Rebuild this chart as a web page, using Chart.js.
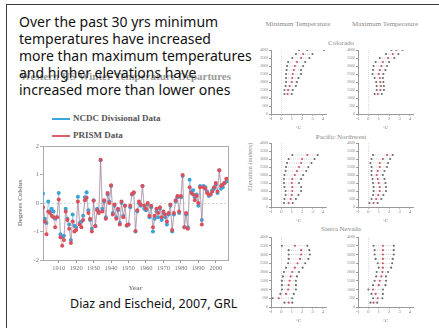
<!DOCTYPE html>
<html>
<head>
<meta charset="utf-8">
<script src="https://cdn.jsdelivr.net/npm/chart.js@4"></script>
<style>
  html, body { margin: 0; padding: 0; background: #fff; width: 439px; height: 328px; overflow: hidden; }
  .frame { position: absolute; left: 6px; top: 4px; width: 460px; height: 360px; border-left: 1.5px solid #3a3a3a; border-top: 1.5px solid #3a3a3a; }
  .abs { position: absolute; white-space: nowrap; }
  .ctr { transform: translate(-50%, -50%); }
  canvas { position: absolute; }
  .serif { font-family: 'Liberation Serif', 'DejaVu Serif', serif; }
  .slide { font-family: 'Comic Sans MS', 'Noto Sans', sans-serif; color: #111; }
</style>
</head>
<body>
<div class="frame"></div>

<div class="abs serif" style="left:20px; top:70px; font-size:11px; font-weight:bold; color:#9a9a9a;">Western US Winter Temperature Departures</div>
<div class="abs slide" style="left:19px; top:13px; font-size:14px; line-height:17px;">
  Over the past 30 yrs minimum<br>
  temperatures have increased<br>
  more than maximum temperatures<br>
  and higher elevations have<br>
  increased more than lower ones
</div>

<div class="abs" style="left:52px; top:118px; width:18px; height:2px; background:#3aa6dc;"></div>
<div class="abs serif" style="left:73px; top:113px; font-size:9px; font-weight:bold; color:#555;">NCDC Divisional Data</div>
<div class="abs" style="left:52px; top:135px; width:18px; height:2px; background:#de5f68;"></div>
<div class="abs serif" style="left:73px; top:130px; font-size:9px; font-weight:bold; color:#555;">PRISM Data</div>

<canvas id="main" width="226" height="152" style="left:8px; top:140px;"></canvas>

<div class="abs slide" style="left:70px; top:295px; font-size:12.5px;">Diaz and Eischeid, 2007, GRL</div>

<div class="abs serif ctr" style="left:298px; top:24px; font-size:7px; color:#888;">Minimum Temperature</div>
<div class="abs serif ctr" style="left:385px; top:24px; font-size:7px; color:#888;">Maximum Temperature</div>
<div class="abs serif ctr" style="left:341px; top:43px; font-size:7px; color:#888;">Colorado</div>
<div class="abs serif ctr" style="left:341px; top:137px; font-size:7px; color:#888;">Pacific Northwest</div>
<div class="abs serif ctr" style="left:341px; top:229px; font-size:7px; color:#888;">Sierra Nevada</div>
<div class="abs serif ctr" style="left:249px; top:167px; font-size:6.5px; color:#888; transform: translate(-50%, -50%) rotate(-90deg);">Elevation (meters)</div>

<canvas id="coMin" width="75" height="85" style="left:255px; top:46px;"></canvas>
<canvas id="coMax" width="75" height="85" style="left:342px; top:46px;"></canvas>
<canvas id="pnMin" width="75" height="85" style="left:255px; top:139px;"></canvas>
<canvas id="pnMax" width="75" height="85" style="left:342px; top:139px;"></canvas>
<canvas id="snMin" width="75" height="91" style="left:255px; top:233px;"></canvas>
<canvas id="snMax" width="75" height="91" style="left:342px; top:233px;"></canvas>

<script>
// Winter temperature departures (°C), 1901-2006
const firstYear = 1901;
const ncdc = [
  0.33, -0.55, -0.7, 0.05, -0.3, -0.2, -0.3, -0.55, -0.5, 0.35,
  -1.1, -1.2, -1.15, -0.2, -0.55, -0.75, -1.3, -0.4, -0.8, -0.85,
  0.22, -0.7, -0.65, -0.45, 0.2, 0.38, -0.25, -0.6, -0.9, 0.1,
  -0.8, -0.2, -0.3, 1.5, -0.2, 0.05, -0.5, 0.3, 0.05, 0.6,
  -0.35, -0.1, -0.5, -0.25, -0.7, 0.0, -0.45, -0.1, -0.8, -0.75,
  -0.15, 0.3, 0.35, -1.0, -0.3, 0.0, -0.1, 0.6, -0.2, -0.25,
  -0.05, -0.5, -0.15, -1.0, -0.55, -0.3, -0.5, -0.2, -0.6, -0.35,
  -0.5, -0.75, -0.4, -0.1, -1.0, -0.4, 0.05, 0.2, -0.35, 0.2,
  0.95, -0.85, -0.4, -0.85, 0.82, 0.4, 0.45, 0.2, 0.3, -0.1,
  0.6, -0.6, 0.6, 0.55, 0.4, 0.25, 0.3, 0.45, 0.5, 0.65,
  0.35, 1.15, 0.5, 0.55, 0.7, 0.75
];
const prism = [
  -0.15, -0.65, -1.1, -0.3, -0.35, -0.45, -0.5, -0.85, -0.5, 0.12,
  -1.2, -1.5, -1.3, -0.3, -0.6, -0.9, -1.4, -0.65, -1.0, -0.95,
  0.05, -0.75, -0.85, -0.6, 0.1, 0.18, -0.35, -0.55, -1.0, 0.08,
  -0.82, -0.25, -0.35, 1.52, -0.3, 0.1, -0.55, 0.35, 0.0, 0.62,
  -0.4, -0.05, -0.55, -0.2, -0.75, 0.05, -0.5, -0.1, -0.78, -0.75,
  -0.1, 0.32, 0.38, -0.98, -0.25, 0.05, -0.05, 0.6, -0.1, -0.2,
  0.0, -0.45, -0.1, -0.85, -0.45, -0.2, -0.35, -0.15, -0.5, -0.3,
  -0.4, -0.65, -0.35, -0.05, -0.95, -0.35, 0.1, 0.25, -0.3, 0.25,
  0.98, -0.85, -0.35, -0.9, 0.55, 0.35, 0.3, 0.1, 0.25, 0.0,
  0.55, -0.75, 0.55, 0.5, 0.35, 0.3, 0.3, 0.4, 0.55, 0.7,
  0.4, 1.15, 0.6, 0.65, 0.7, 0.85
];
const years = prism.map((_, i) => firstYear + i);
const decadeTicks = [1910, 1920, 1930, 1940, 1950, 1960, 1970, 1980, 1990, 2000];
const degreeTicks = [-2, -1, 0, 1, 2];

// Elevation profiles of warming (°C): low / central / high estimate per elevation band (m)
const coloradoElev = [4000, 3750, 3500, 3250, 3000, 2750, 2500, 2250, 2000, 1750, 1500, 1250];
const coMinLow  = [1.7, 1.4, 1.05, 0.65, 0.55, 0.5, 0.45, 0.45, 0.45, 0.4, 0.3, 0.3];
const coMinMid  = [2.5, 2.1, 1.9, 1.5, 1.3, 1.2, 1.1, 1.05, 1.0, 0.8, 0.65, 0.6];
const coMinHigh = [4.1, 3.0, 2.7, 2.3, 2.1, 1.9, 1.9, 1.65, 1.5, 1.4, 1.1, 1.0];
const coMaxLow  = [2.2, 1.7, 1.1, 0.7, 0.5, 0.45, 0.4, 0.6, 0.75, 0.8, 0.8, 0.6];
const coMaxMid  = [2.7, 2.35, 1.9, 1.4, 1.25, 1.1, 1.0, 1.1, 1.15, 1.2, 1.15, 0.9];
const coMaxHigh = [3.3, 2.9, 2.5, 2.0, 1.8, 1.65, 1.45, 1.4, 1.45, 1.5, 1.5, 1.3];

const pacificElev = [3250, 3000, 2750, 2500, 2250, 2000, 1750, 1500, 1250, 1000, 750, 500, 250];
const pnMinLow  = [1.05, 0.7, 0.55, 0.45, 0.4, 0.3, 0.25, 0.25, 0.3, 0.4, 0.4, 0.3, 0.25];
const pnMinMid  = [2.5, 2.0, 1.9, 1.7, 1.5, 1.3, 1.05, 1.0, 1.05, 1.05, 1.0, 0.9, 0.7];
const pnMinHigh = [3.5, 3.2, 2.9, 2.6, 2.4, 2.1, 1.9, 1.7, 1.9, 1.9, 1.65, 1.4, 1.1];
const pnMaxLow  = [0.45, 0.3, 0.2, 0.3, 0.3, 0.3, 0.4, 0.45, 0.5, 0.5, 0.45, 0.3, 0.1];
const pnMaxMid  = [1.8, 1.4, 1.1, 1.1, 0.9, 0.8, 0.9, 1.0, 1.1, 1.1, 0.95, 0.75, 0.5];
const pnMaxHigh = [2.35, 2.1, 1.9, 1.8, 1.55, 1.4, 1.55, 1.65, 1.7, 1.7, 1.45, 1.25, 0.9];

const sierraElev = [3500, 3250, 3000, 2750, 2500, 2250, 2000, 1750, 1500, 1250, 1000, 750, 500, 250];
const snMinLow  = [0.05, 0.7, 0.7, 0.7, 0.65, 0.45, 0.25, 0.15, 0.05, 0.05, 0.05, -0.1, -0.85, 0.3];
const snMinMid  = [1.3, 1.9, 1.9, 1.8, 1.55, 1.3, 1.05, 0.9, 0.8, 0.7, 0.65, 0.45, -0.25, 0.7];
const snMinHigh = [2.5, 2.7, 2.75, 2.6, 2.3, 2.05, 1.7, 1.5, 1.4, 1.4, 1.4, 1.2, 1.05, 1.05];
const snMaxLow  = [0.5, 0.6, 0.6, 0.7, 0.9, 1.0, 0.8, 0.75, 0.6, 0.45, 0.0, 0.3, 0.45, 0.2];
const snMaxMid  = [1.4, 1.4, 1.4, 1.4, 1.4, 1.4, 1.35, 1.25, 1.1, 1.0, 0.45, 0.7, 0.9, 0.5];
const snMaxHigh = [2.45, 2.45, 2.45, 2.35, 2.3, 2.2, 1.9, 1.7, 1.7, 1.65, 1.4, 1.4, 1.35, 0.85];

const elevTicks = [0, 500, 1000, 1500, 2000, 2500, 3000, 3500, 4000];
const warmTicks = [-1, 0, 1, 2, 3, 4];

const serif = 'Liberation Serif';
const fixTicks = list => scale => { scale.ticks = list.map(v => ({ value: v })); };
const plain = v => String(v);

// ---- time series ----
new Chart(document.getElementById('main'), {
  type: 'line',
  data: {
    datasets: [
      {
        label: 'PRISM Data',
        data: years.map((y, i) => ({ x: y, y: prism[i] })),
        borderColor: 'rgba(214, 96, 106, 0.55)',
        borderWidth: 0.8,
        pointRadius: 2,
        pointBorderWidth: 0,
        pointBackgroundColor: '#d9505c',
        tension: 0
      },
      {
        label: 'NCDC Divisional Data',
        data: years.map((y, i) => ({ x: y, y: ncdc[i] })),
        borderColor: 'rgba(60, 160, 214, 0.55)',
        borderWidth: 0.8,
        pointRadius: 2,
        pointBorderWidth: 0,
        pointBackgroundColor: '#3aa3d8',
        tension: 0
      }
    ]
  },
  options: {
    responsive: false,
    animation: false,
    events: [],
    layout: { padding: { top: 6, right: 6, left: 0, bottom: 0 } },
    plugins: { legend: { display: false }, tooltip: { enabled: false } },
    scales: {
      x: {
        type: 'linear', min: 1901, max: 2007,
        afterBuildTicks: fixTicks(decadeTicks),
        afterFit: s => { s.height = 32; },
        grid: { drawOnChartArea: false, tickLength: 3, tickColor: '#999' },
        border: { color: '#aaa' },
        ticks: { font: { family: serif, size: 6.5 }, color: '#777', padding: 1, maxRotation: 0, autoSkip: false, callback: plain },
        title: { display: true, text: 'Year', font: { family: serif, size: 7, weight: 'bold' }, color: '#888', padding: { top: 3.8, bottom: 0 } }
      },
      y: {
        min: -2, max: 2,
        afterBuildTicks: fixTicks(degreeTicks),
        afterFit: s => { s.width = 35; },
        grid: { color: c => (c.tick && c.tick.value === 0 ? '#cfcfcf' : 'rgba(0,0,0,0)'), tickColor: '#999', tickLength: 3, lineWidth: 0.8 },
        border: { color: '#aaa', dash: [2, 2] },
        ticks: { font: { family: serif, size: 6.5 }, color: '#777', padding: 1, callback: plain },
        title: { display: true, text: 'Degrees Celsius', font: { family: serif, size: 7, weight: 'bold' }, color: '#888', padding: { top: 7.8, bottom: 0 } }
      },
      xTop: {
        type: 'linear', position: 'top',
        afterFit: s => { s.height = 0; },
        ticks: { display: false }, grid: { display: false }, border: { color: '#aaa' }
      },
      yRight: {
        type: 'linear', position: 'right',
        afterFit: s => { s.width = 0; },
        ticks: { display: false }, grid: { display: false }, border: { color: '#aaa' }
      }
    }
  }
});

// ---- elevation panels ----
function elevationPanel(id, elev, low, mid, high) {
  const dot = (vals, color) => ({
    type: 'scatter',
    data: elev.map((e, i) => ({ x: vals[i], y: e })),
    pointRadius: 1.05,
    pointBorderWidth: 0,
    pointBackgroundColor: color
  });
  const ranges = elev.map((e, i) => ({
    type: 'line',
    data: [{ x: low[i], y: e }, { x: high[i], y: e }],
    borderColor: '#b0b0b0',
    borderWidth: 0.6,
    borderDash: [1, 1.2],
    pointRadius: 0
  }));
  new Chart(document.getElementById(id), {
    type: 'scatter',
    data: { datasets: [dot(mid, '#d0505e'), dot(low, '#6a6a6a'), dot(high, '#6a6a6a'), ...ranges] },
    options: {
      responsive: false,
      animation: false,
      events: [],
      layout: { padding: { top: 4, right: 3, left: 0, bottom: 0 } },
      plugins: { legend: { display: false }, tooltip: { enabled: false } },
      scales: {
        x: {
          type: 'linear', min: -1, max: 4.3,
          afterBuildTicks: fixTicks(warmTicks),
          afterFit: s => { s.height = 17; },
          grid: { color: c => (c.tick && c.tick.value === 0 ? '#cfcfcf' : 'rgba(0,0,0,0)'), tickColor: '#999', tickLength: 2, lineWidth: 0.7 },
          border: { color: '#999', dash: [1, 1] },
          ticks: { font: { family: serif, size: 4.5 }, color: '#777', padding: 0.5, maxRotation: 0, autoSkip: false, callback: plain },
          title: { display: true, text: '°C', font: { family: serif, size: 5 }, color: '#777', padding: { top: 0.5, bottom: 0 } }
        },
        y: {
          type: 'linear', min: 0, max: 4000,
          afterBuildTicks: fixTicks(elevTicks),
          afterFit: s => { s.width = 16; },
          grid: { drawOnChartArea: false, tickColor: '#999', tickLength: 2 },
          border: { color: '#999' },
          ticks: { font: { family: serif, size: 4 }, color: '#888', padding: 1, callback: plain }
        }
      }
    }
  });
}

elevationPanel('coMin', coloradoElev, coMinLow, coMinMid, coMinHigh);
elevationPanel('coMax', coloradoElev, coMaxLow, coMaxMid, coMaxHigh);
elevationPanel('pnMin', pacificElev, pnMinLow, pnMinMid, pnMinHigh);
elevationPanel('pnMax', pacificElev, pnMaxLow, pnMaxMid, pnMaxHigh);
elevationPanel('snMin', sierraElev, snMinLow, snMinMid, snMinHigh);
elevationPanel('snMax', sierraElev, snMaxLow, snMaxMid, snMaxHigh);
</script>
</body>
</html>
